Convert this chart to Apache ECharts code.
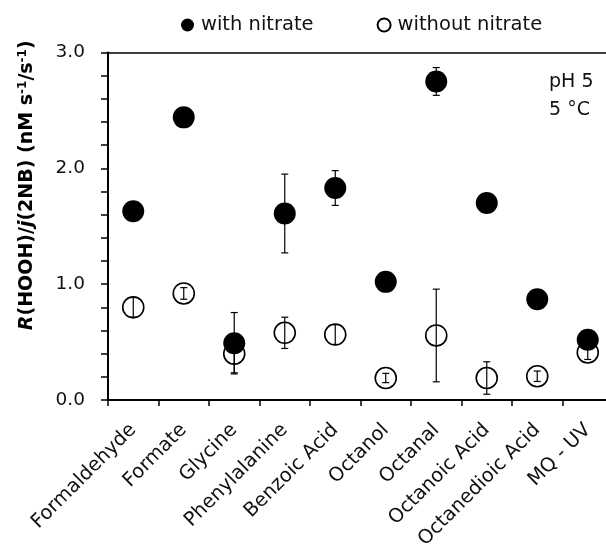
<!DOCTYPE html>
<html>
<head>
<meta charset="utf-8">
<script src="https://cdn.jsdelivr.net/npm/echarts@6/dist/echarts.min.js"></script>
<style>
html,body{margin:0;padding:0;background:#fff;}
#chart{width:606px;height:544px;}
</style>
</head>
<body>
<div id="chart"></div>
<script>
const categories = ['Formaldehyde','Formate','Glycine','Phenylalanine','Benzoic Acid','Octanol','Octanal','Octanoic Acid','Octanedioic Acid','MQ - UV'];
const withNitrate = [1.63, 2.44, 0.49, 1.61, 1.83, 1.02, 2.75, 1.70, 0.87, 0.52];
const withNitrateErr = [0.04, 0.04, 0.265, 0.34, 0.15, 0.04, 0.12, 0.04, 0.04, 0.04];
const withoutNitrate = [0.80, 0.92, 0.40, 0.58, 0.565, 0.19, 0.557, 0.19, 0.205, 0.41];
const withoutNitrateErr = [0.085, 0.05, 0.165, 0.135, 0.085, 0.04, 0.40, 0.14, 0.045, 0.06];
const yTicks = [0, 1, 2, 3];

const FONT = 'DejaVu Sans';
const chart = echarts.init(document.getElementById('chart'), null, {renderer: 'canvas'});

function errData(vals, errs) {
  return vals.map((v, i) => [i, v, errs[i]]);
}
function renderErr(params, api) {
  const x = api.value(0), y = api.value(1), e = api.value(2);
  const top = api.coord([x, y + e]);
  const bot = api.coord([x, y - e]);
  const hw = 3.5;
  const st = {stroke: '#000', lineWidth: 1.2};
  return {
    type: 'group',
    children: [
      {type: 'line', shape: {x1: top[0], y1: top[1], x2: bot[0], y2: bot[1]}, style: st},
      {type: 'line', shape: {x1: top[0] - hw, y1: top[1], x2: top[0] + hw, y2: top[1]}, style: st},
      {type: 'line', shape: {x1: bot[0] - hw, y1: bot[1], x2: bot[0] + hw, y2: bot[1]}, style: st}
    ]
  };
}

const option = {
  animation: false,
  backgroundColor: '#fff',
  textStyle: {fontFamily: FONT, color: '#000'},
  title: {
    text: 'pH 5\n5 °C',
    left: 549, top: 68, padding: 0,
    textStyle: {fontFamily: FONT, fontSize: 19, fontWeight: 'normal', color: '#111', lineHeight: 28}
  },
  legend: {
    data: [
      {name: 'with nitrate', icon: 'circle'},
      {name: 'without nitrate', icon: 'circle'}
    ],
    left: 176, top: 10,
    itemWidth: 13, itemHeight: 13, itemGap: 63,
    textStyle: {fontFamily: FONT, fontSize: 19.5, color: '#111', padding: [0, 0, 0, 2]}
  },
  grid: {left: 108, right: -7, top: 52.5, bottom: 144, containLabel: false, outerBoundsMode: 'none'},
  xAxis: [{
    type: 'category',
    data: categories,
    boundaryGap: true,
    axisLine: {show: true, lineStyle: {color: '#000', width: 2}},
    axisTick: {show: true, length: 6, lineStyle: {color: '#000', width: 1.5}},
    axisLabel: {rotate: 45, margin: 27, fontFamily: FONT, fontSize: 19.5, color: '#111', interval: 0},
    splitLine: {show: false}
  }, {
    type: 'category',
    data: categories,
    position: 'top',
    axisLine: {show: true, lineStyle: {color: '#000', width: 1.5}},
    axisTick: {show: false},
    axisLabel: {show: false},
    splitLine: {show: false}
  }],
  yAxis: {
    type: 'value',
    min: yTicks[0], max: yTicks[yTicks.length - 1], interval: 1,
    axisLine: {show: true, lineStyle: {color: '#000', width: 2}},
    axisTick: {show: true, length: 7, lineStyle: {color: '#000', width: 1.5}},
    minorTick: {show: true, splitNumber: 5, length: 7, lineStyle: {color: '#000', width: 1.5}},
    axisLabel: {margin: 23, fontFamily: FONT, fontSize: 18.5, color: '#111', formatter: v => v.toFixed(1)},
    splitLine: {show: false},
    name: '{i|R}{b|(HOOH)/}{i|j}{b|(2NB) (nM s}{sup|-1}{b|/s}{sup|-1}{b|)}',
    nameLocation: 'middle',
    nameGap: 71,
    nameRotate: 90,
    nameTextStyle: {
      padding: [0, 0, 0, 82],
      rich: {
        b: {fontFamily: FONT, fontSize: 19, fontWeight: 'bold', color: '#000'},
        i: {fontFamily: FONT, fontSize: 19, fontWeight: 'bold', fontStyle: 'italic', color: '#000'},
        sup: {fontFamily: FONT, fontSize: 12, fontWeight: 'bold', color: '#000', verticalAlign: 'top', padding: [0, 0, 8, 0]}
      }
    }
  },
  series: [
    {
      name: 'without nitrate',
      type: 'scatter',
      data: withoutNitrate,
      symbol: 'circle',
      symbolSize: 21,
      itemStyle: {color: '#fff', borderColor: '#000', borderWidth: 1.6, opacity: 1},
      z: 2
    },
    {
      name: 'with nitrate',
      type: 'scatter',
      data: withNitrate,
      symbol: 'circle',
      symbolSize: 22,
      itemStyle: {color: '#000', opacity: 1},
      z: 3
    },
    {
      name: 'errWith',
      type: 'custom',
      data: errData(withNitrate, withNitrateErr),
      renderItem: renderErr,
      encode: {x: 0, y: 1},
      z: 4
    },
    {
      name: 'errWithout',
      type: 'custom',
      data: errData(withoutNitrate, withoutNitrateErr),
      renderItem: renderErr,
      encode: {x: 0, y: 1},
      z: 4
    }
  ]
};
chart.setOption(option);
</script>
</body>
</html>
